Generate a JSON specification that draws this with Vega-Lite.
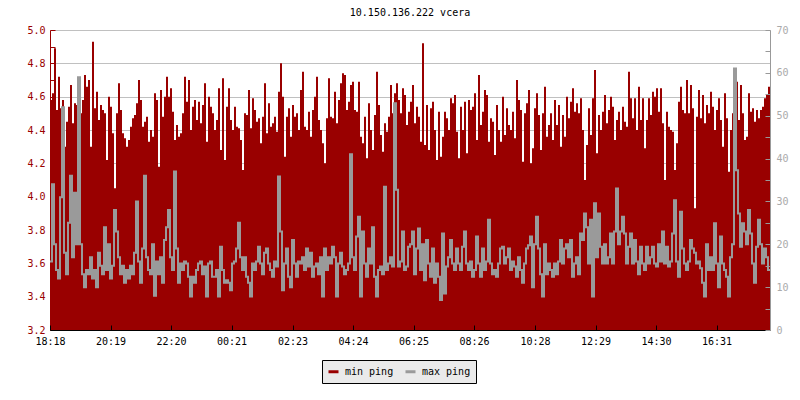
{
"$schema": "https://vega.github.io/schema/vega-lite/v6.json",
"width": 720,
"height": 300,
"autosize": "none",
"padding": {"left": 50, "top": 30, "right": 30, "bottom": 70},
"background": "white",
"title": {"text": "10.150.136.222 vcera", "font": "DejaVu Sans Mono", "fontSize": 10, "fontWeight": "normal", "color": "black", "offset": 7},
"config": {"view": {"stroke": null}, "font": "DejaVu Sans Mono"},
"data": {"values": [
{"t":0,"a":4.58,"b":16},{"t":4,"a":4.62,"b":34},{"t":8,"a":4.89,"b":20},{"t":12,"a":4.52,"b":14},{"t":16,"a":4.72,"b":12},{"t":20,"a":4.53,"b":31},{"t":24,"a":4.58,"b":52},{"t":28,"a":4.3,"b":18},{"t":32,"a":4.45,"b":13},{"t":36,"a":4.54,"b":25},
{"t":40,"a":4.67,"b":36},{"t":44,"a":4.44,"b":17},{"t":48,"a":4.56,"b":32},{"t":52,"a":4.55,"b":20},{"t":56,"a":4.52,"b":59},{"t":60,"a":4.5,"b":20},{"t":64,"a":4.58,"b":13},{"t":68,"a":4.73,"b":10},{"t":72,"a":4.66,"b":14},{"t":76,"a":4.7,"b":13},
{"t":80,"a":4.3,"b":17},{"t":84,"a":4.93,"b":12},{"t":88,"a":4.53,"b":14},{"t":92,"a":4.63,"b":10},{"t":96,"a":4.46,"b":18},{"t":100,"a":4.55,"b":15},{"t":104,"a":4.52,"b":13},{"t":108,"a":4.5,"b":24},{"t":112,"a":4.22,"b":14},{"t":116,"a":4.6,"b":20},
{"t":120,"a":4.54,"b":12},{"t":124,"a":4.38,"b":15},{"t":128,"a":4.05,"b":28},{"t":132,"a":4.5,"b":23},{"t":136,"a":4.68,"b":17},{"t":140,"a":4.52,"b":13},{"t":144,"a":4.38,"b":15},{"t":148,"a":4.35,"b":11},{"t":152,"a":4.3,"b":14},{"t":156,"a":4.34,"b":12},
{"t":160,"a":4.42,"b":15},{"t":164,"a":4.47,"b":13},{"t":168,"a":4.49,"b":18},{"t":172,"a":4.56,"b":30},{"t":176,"a":4.7,"b":16},{"t":180,"a":4.58,"b":11},{"t":184,"a":4.42,"b":19},{"t":188,"a":4.45,"b":36},{"t":192,"a":4.48,"b":17},{"t":196,"a":4.33,"b":14},
{"t":200,"a":4.4,"b":13},{"t":204,"a":4.36,"b":20},{"t":208,"a":4.62,"b":8},{"t":212,"a":4.58,"b":16},{"t":216,"a":4.18,"b":13},{"t":220,"a":4.64,"b":17},{"t":224,"a":4.48,"b":11},{"t":228,"a":4.6,"b":21},{"t":232,"a":4.72,"b":24},{"t":236,"a":4.6,"b":28},
{"t":240,"a":4.65,"b":17},{"t":244,"a":4.51,"b":14},{"t":248,"a":4.34,"b":37},{"t":252,"a":4.43,"b":19},{"t":256,"a":4.36,"b":11},{"t":260,"a":4.38,"b":15.5},{"t":264,"a":4.5,"b":14},{"t":268,"a":4.72,"b":16},{"t":272,"a":4.57,"b":15.5},{"t":276,"a":4.7,"b":12.4},
{"t":280,"a":4.4,"b":7.8},{"t":284,"a":4.54,"b":12.4},{"t":288,"a":4.58,"b":11},{"t":292,"a":4.46,"b":14},{"t":296,"a":4.57,"b":15.5},{"t":300,"a":4.44,"b":16},{"t":304,"a":4.55,"b":13},{"t":308,"a":4.68,"b":14.8},{"t":312,"a":4.33,"b":7.8},{"t":316,"a":4.6,"b":15.5},
{"t":320,"a":4.54,"b":16},{"t":324,"a":4.5,"b":12.4},{"t":328,"a":4.4,"b":12.4},{"t":332,"a":4.46,"b":14},{"t":336,"a":4.65,"b":7.8},{"t":340,"a":4.28,"b":19.4},{"t":344,"a":4.71,"b":14},{"t":348,"a":4.22,"b":11},{"t":352,"a":4.54,"b":11.6},{"t":356,"a":4.65,"b":11},
{"t":360,"a":4.46,"b":9.3},{"t":364,"a":4.4,"b":15.5},{"t":368,"a":4.54,"b":16},{"t":372,"a":4.42,"b":19},{"t":376,"a":4.41,"b":25},{"t":380,"a":4.34,"b":17},{"t":384,"a":4.16,"b":14},{"t":388,"a":4.5,"b":17},{"t":392,"a":4.49,"b":12.4},{"t":396,"a":4.64,"b":11},
{"t":400,"a":4.41,"b":7.8},{"t":404,"a":4.59,"b":15.5},{"t":408,"a":4.52,"b":14},{"t":412,"a":4.45,"b":16},{"t":416,"a":4.47,"b":19.4},{"t":420,"a":4.32,"b":15.5},{"t":424,"a":4.48,"b":13},{"t":428,"a":4.68,"b":18},{"t":432,"a":4.38,"b":19},{"t":436,"a":4.56,"b":15.5},
{"t":440,"a":4.42,"b":14},{"t":444,"a":4.44,"b":12.4},{"t":448,"a":4.48,"b":16},{"t":452,"a":4.39,"b":14.8},{"t":456,"a":4.63,"b":35.8},{"t":460,"a":4.8,"b":23},{"t":464,"a":4.6,"b":9.3},{"t":468,"a":4.24,"b":15.5},{"t":472,"a":4.48,"b":19},{"t":476,"a":4.53,"b":12.4},
{"t":480,"a":4.36,"b":10},{"t":484,"a":4.55,"b":21},{"t":488,"a":4.48,"b":15.5},{"t":492,"a":4.5,"b":12.4},{"t":496,"a":4.4,"b":16},{"t":500,"a":4.64,"b":15.5},{"t":504,"a":4.75,"b":17},{"t":508,"a":4.42,"b":14},{"t":512,"a":4.4,"b":19},{"t":516,"a":4.51,"b":14.8},
{"t":520,"a":4.36,"b":18},{"t":524,"a":4.52,"b":12.4},{"t":528,"a":4.6,"b":14.8},{"t":532,"a":4.72,"b":15.5},{"t":536,"a":4.46,"b":13},{"t":540,"a":4.4,"b":17},{"t":544,"a":4.32,"b":7.8},{"t":548,"a":4.2,"b":19},{"t":552,"a":4.47,"b":14},{"t":556,"a":4.71,"b":17},
{"t":560,"a":4.48,"b":15.5},{"t":564,"a":4.47,"b":19.4},{"t":568,"a":4.63,"b":17},{"t":572,"a":4.44,"b":7.8},{"t":576,"a":4.58,"b":15.5},{"t":580,"a":4.68,"b":18},{"t":584,"a":4.74,"b":14.8},{"t":588,"a":4.73,"b":13},{"t":592,"a":4.52,"b":14},{"t":596,"a":4.57,"b":15.5},
{"t":600,"a":4.67,"b":41},{"t":604,"a":4.69,"b":17},{"t":608,"a":4.52,"b":14},{"t":612,"a":4.51,"b":21.8},{"t":616,"a":4.69,"b":26.4},{"t":620,"a":4.36,"b":7.8},{"t":624,"a":4.32,"b":23},{"t":628,"a":4.48,"b":15.5},{"t":632,"a":4.23,"b":12.4},{"t":636,"a":4.56,"b":19},
{"t":640,"a":4.4,"b":15.5},{"t":644,"a":4.28,"b":24},{"t":648,"a":4.49,"b":12.4},{"t":652,"a":4.75,"b":7.8},{"t":656,"a":4.55,"b":14},{"t":660,"a":4.37,"b":14.8},{"t":664,"a":4.27,"b":13},{"t":668,"a":4.44,"b":33.4},{"t":672,"a":4.39,"b":14},{"t":676,"a":4.48,"b":15.5},
{"t":680,"a":4.67,"b":17},{"t":684,"a":4.5,"b":14.8},{"t":688,"a":4.62,"b":52.9},{"t":692,"a":4.68,"b":32.7},{"t":696,"a":4.58,"b":14.8},{"t":700,"a":4.5,"b":16},{"t":704,"a":4.65,"b":23},{"t":708,"a":4.61,"b":14},{"t":712,"a":4.43,"b":14.8},{"t":716,"a":4.51,"b":19.4},
{"t":720,"a":4.57,"b":20},{"t":724,"a":4.67,"b":23},{"t":728,"a":4.44,"b":13},{"t":732,"a":4.54,"b":19},{"t":736,"a":4.48,"b":23.7},{"t":740,"a":4.33,"b":14},{"t":744,"a":4.92,"b":20},{"t":748,"a":4.31,"b":11.6},{"t":752,"a":4.55,"b":21},{"t":756,"a":4.28,"b":15.5},
{"t":760,"a":4.53,"b":12.4},{"t":764,"a":4.57,"b":19},{"t":768,"a":4.4,"b":11},{"t":772,"a":4.22,"b":15.5},{"t":776,"a":4.51,"b":12.4},{"t":780,"a":4.24,"b":7},{"t":784,"a":4.36,"b":22.5},{"t":788,"a":4.51,"b":8.5},{"t":792,"a":4.47,"b":14.8},{"t":796,"a":4.4,"b":17},
{"t":800,"a":4.59,"b":21},{"t":804,"a":4.56,"b":15.5},{"t":808,"a":4.61,"b":14},{"t":812,"a":4.39,"b":19},{"t":816,"a":4.23,"b":15.5},{"t":820,"a":4.54,"b":14},{"t":824,"a":4.4,"b":19.4},{"t":828,"a":4.57,"b":23},{"t":832,"a":4.26,"b":15.5},{"t":836,"a":4.58,"b":14},
{"t":840,"a":4.52,"b":16},{"t":844,"a":4.54,"b":12.4},{"t":848,"a":4.62,"b":14},{"t":852,"a":4.34,"b":21.8},{"t":856,"a":4.73,"b":15.5},{"t":860,"a":4.43,"b":12.4},{"t":864,"a":4.51,"b":19},{"t":868,"a":4.64,"b":14},{"t":872,"a":4.61,"b":16},{"t":876,"a":4.33,"b":25.7},
{"t":880,"a":4.47,"b":15.5},{"t":884,"a":4.45,"b":13},{"t":888,"a":4.25,"b":14},{"t":892,"a":4.55,"b":12.4},{"t":896,"a":4.4,"b":15.5},{"t":900,"a":4.33,"b":19},{"t":904,"a":4.6,"b":19.4},{"t":908,"a":4.37,"b":15.5},{"t":912,"a":4.53,"b":17},{"t":916,"a":4.43,"b":19},
{"t":920,"a":4.4,"b":14},{"t":924,"a":4.51,"b":16},{"t":928,"a":4.35,"b":14.8},{"t":932,"a":4.7,"b":12.4},{"t":936,"a":4.58,"b":17},{"t":940,"a":4.52,"b":14},{"t":944,"a":4.21,"b":11},{"t":948,"a":4.5,"b":15.5},{"t":952,"a":4.56,"b":19},{"t":956,"a":4.64,"b":19.8},
{"t":960,"a":4.2,"b":21.8},{"t":964,"a":4.29,"b":10},{"t":968,"a":4.53,"b":20},{"t":972,"a":4.62,"b":26.4},{"t":976,"a":4.49,"b":19},{"t":980,"a":4.28,"b":13},{"t":984,"a":4.5,"b":7.8},{"t":988,"a":4.66,"b":20},{"t":992,"a":4.36,"b":13},{"t":996,"a":4.43,"b":15.5},
{"t":1000,"a":4.5,"b":14},{"t":1004,"a":4.34,"b":12.4},{"t":1008,"a":4.58,"b":15.5},{"t":1012,"a":4.43,"b":13},{"t":1016,"a":4.55,"b":16},{"t":1020,"a":4.3,"b":21},{"t":1024,"a":4.49,"b":15.5},{"t":1028,"a":4.36,"b":19},{"t":1032,"a":4.6,"b":20},{"t":1036,"a":4.47,"b":17},
{"t":1040,"a":4.57,"b":21},{"t":1044,"a":4.65,"b":12.4},{"t":1048,"a":4.51,"b":15.5},{"t":1052,"a":4.56,"b":17},{"t":1056,"a":4.5,"b":13},{"t":1060,"a":4.59,"b":22.5},{"t":1064,"a":4.4,"b":21},{"t":1068,"a":4.1,"b":27.2},{"t":1072,"a":4.31,"b":24},{"t":1076,"a":4.53,"b":15.5},
{"t":1080,"a":4.37,"b":25.7},{"t":1084,"a":4.59,"b":7.8},{"t":1088,"a":4.76,"b":29.6},{"t":1092,"a":4.26,"b":17},{"t":1096,"a":4.49,"b":27.2},{"t":1100,"a":4.4,"b":19.4},{"t":1104,"a":4.51,"b":15.5},{"t":1108,"a":4.61,"b":20},{"t":1112,"a":4.44,"b":15.5},{"t":1116,"a":4.52,"b":17},
{"t":1120,"a":4.6,"b":22.5},{"t":1124,"a":4.54,"b":15.5},{"t":1128,"a":4.34,"b":23},{"t":1132,"a":4.46,"b":33},{"t":1136,"a":4.51,"b":20},{"t":1140,"a":4.4,"b":23},{"t":1144,"a":4.54,"b":26.4},{"t":1148,"a":4.45,"b":22.5},{"t":1152,"a":4.42,"b":15.5},{"t":1156,"a":4.75,"b":19.4},
{"t":1160,"a":4.59,"b":22.5},{"t":1164,"a":4.47,"b":15.5},{"t":1168,"a":4.59,"b":21},{"t":1172,"a":4.4,"b":16},{"t":1176,"a":4.66,"b":13},{"t":1180,"a":4.46,"b":19.4},{"t":1184,"a":4.59,"b":15.5},{"t":1188,"a":4.29,"b":14},{"t":1192,"a":4.46,"b":19.4},{"t":1196,"a":4.59,"b":15.5},
{"t":1200,"a":4.49,"b":17},{"t":1204,"a":4.63,"b":19.4},{"t":1208,"a":4.6,"b":15.5},{"t":1212,"a":4.65,"b":14.8},{"t":1216,"a":4.51,"b":20},{"t":1220,"a":4.65,"b":16},{"t":1224,"a":4.44,"b":23},{"t":1228,"a":4.1,"b":15.5},{"t":1232,"a":4.51,"b":19.4},{"t":1236,"a":4.42,"b":14.8},
{"t":1240,"a":4.4,"b":16},{"t":1244,"a":4.39,"b":22.5},{"t":1248,"a":4.16,"b":30.3},{"t":1252,"a":4.32,"b":16},{"t":1256,"a":4.57,"b":12.4},{"t":1260,"a":4.66,"b":27.6},{"t":1264,"a":4.52,"b":19},{"t":1268,"a":4.5,"b":15.5},{"t":1272,"a":4.7,"b":14},{"t":1276,"a":4.5,"b":16},
{"t":1280,"a":4.67,"b":21},{"t":1284,"a":4.53,"b":19},{"t":1288,"a":3.93,"b":18},{"t":1292,"a":4.48,"b":15.5},{"t":1296,"a":4.64,"b":16},{"t":1300,"a":4.47,"b":14.4},{"t":1304,"a":4.61,"b":11},{"t":1308,"a":4.44,"b":7.8},{"t":1312,"a":4.55,"b":20},{"t":1316,"a":4.5,"b":14},
{"t":1320,"a":4.63,"b":17},{"t":1324,"a":4.54,"b":14},{"t":1328,"a":4.4,"b":24.9},{"t":1332,"a":4.52,"b":15.5},{"t":1336,"a":4.59,"b":10},{"t":1340,"a":4.46,"b":21.8},{"t":1344,"a":4.3,"b":15.5},{"t":1348,"a":4.62,"b":14},{"t":1352,"a":4.47,"b":12.4},{"t":1356,"a":4.15,"b":7.8},
{"t":1360,"a":4.4,"b":17},{"t":1364,"a":4.5,"b":20},{"t":1368,"a":4.66,"b":61},{"t":1372,"a":4.69,"b":37.3},{"t":1376,"a":4.46,"b":27.2},{"t":1380,"a":4.67,"b":19.4},{"t":1384,"a":4.5,"b":24.9},{"t":1388,"a":4.34,"b":23},{"t":1392,"a":4.36,"b":20},{"t":1396,"a":4.62,"b":28},
{"t":1400,"a":4.51,"b":22.5},{"t":1404,"a":4.53,"b":15.5},{"t":1408,"a":4.45,"b":11},{"t":1412,"a":4.52,"b":19.4},{"t":1416,"a":4.47,"b":25.7},{"t":1420,"a":4.52,"b":20},{"t":1424,"a":4.54,"b":15.5},{"t":1428,"a":4.59,"b":19},{"t":1432,"a":4.61,"b":17},{"t":1436,"a":4.66,"b":14},
{"t":1440,"a":4.66,"b":14}
]},
"encoding": {
  "x": {"field": "t", "type": "quantitative",
    "scale": {"domain": [0, 1440], "nice": false, "zero": false},
    "axis": {"values": [0,121,242,363,485,606,727,848,970,1091,1212,1333],
      "labelExpr": "timeFormat(datetime(2024,0,1,18,18+datum.value),'%H:%M')",
      "title": null, "grid": false, "domainColor": "black", "tickColor": "black", "tickSize": -5,
      "labelColor": "black", "labelFont": "DejaVu Sans Mono", "labelFontSize": 10, "labelPadding": 11,
      "labelFlush": false, "labelOverlap": false, "zindex": 1}}
},
"layer": [
  {"mark": {"type": "area", "interpolate": "step-after"},
   "encoding": {
     "y": {"field": "a", "type": "quantitative",
       "scale": {"domain": [3.2, 5.0], "zero": false, "nice": false},
       "axis": {"orient": "left", "values": [3.2,3.3,3.4,3.5,3.6,3.7,3.8,3.9,4.0,4.1,4.2,4.3,4.4,4.5,4.6,4.7,4.8,4.9,5.0],
         "labelExpr": "round(datum.value*10)%2===0 ? format(datum.value,'.1f') : ''",
         "title": null, "grid": true, "gridColor": "#c0c0c0",
         "gridOpacity": {"condition": {"test": "round(datum.value*10)%2===0", "value": 1}, "value": 0},
         "domainColor": "#990000", "tickColor": "#990000", "tickSize": -5,
         "labelColor": "#990000", "labelFont": "DejaVu Sans Mono", "labelFontSize": 10, "labelPadding": 10}},
     "y2": {"datum": 3.2},
     "color": {"datum": "min ping", "type": "nominal",
       "scale": {"domain": ["min ping", "max ping"], "range": ["#990000", "#9a9a9a"]},
       "legend": {"orient": "none", "legendX": 272, "legendY": 330, "direction": "horizontal", "title": null,
         "symbolType": "stroke", "symbolSize": 100, "symbolStrokeWidth": 3,
         "labelFont": "DejaVu Sans Mono", "labelFontSize": 10, "labelColor": "black",
         "fillColor": "#eaeaea", "strokeColor": "black", "padding": 5, "columnPadding": 5, "labelOffset": 5,
         "encode": {"symbols": {"update": {"stroke": {"scale": "color", "field": "value"}, "strokeWidth": {"value": 3}, "fill": {"value": "transparent"}}}}}}
   }},
  {"mark": {"type": "line", "interpolate": "step-after", "strokeWidth": 2},
   "encoding": {
     "y": {"field": "b", "type": "quantitative",
       "scale": {"domain": [0, 70], "nice": false},
       "axis": {"orient": "right", "values": [0,5,10,15,20,25,30,35,40,45,50,55,60,65,70],
         "labelExpr": "datum.value%10===0 ? datum.label : ''",
         "title": null, "grid": false, "domainColor": "#999999", "tickColor": "#999999", "tickSize": -5,
         "labelColor": "#aaaaaa", "labelFont": "DejaVu Sans Mono", "labelFontSize": 10, "labelPadding": 11, "zindex": 1}},
     "color": {"datum": "max ping", "type": "nominal"}
   }}
],
"resolve": {"scale": {"y": "independent"}}
}
